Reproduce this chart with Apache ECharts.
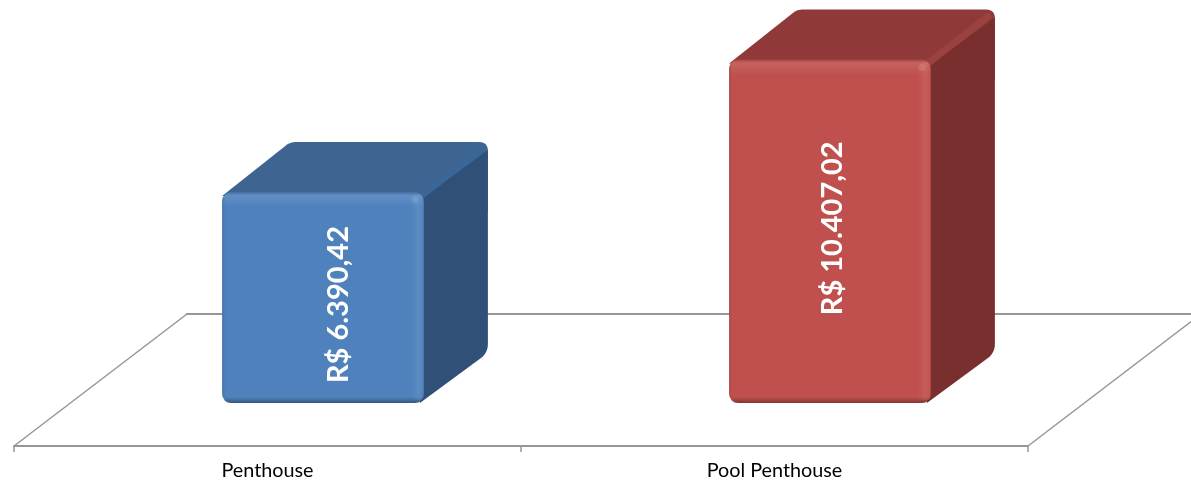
<!DOCTYPE html>
<html>
<head>
<meta charset="utf-8">
<style>
html,body{margin:0;padding:0;background:#fff;}
#chart{width:1191px;height:481px;}
</style>
<script src="https://cdn.jsdelivr.net/npm/echarts@6/dist/echarts.min.js"></script>
</head>
<body>
<div id="chart"></div>
<script>
// dados
var categories = ['Penthouse', 'Pool Penthouse'];
var values = [6390.42, 10407.02];
var valueLabels = ['R$ 6.390,42', 'R$ 10.407,02'];

// cores: frente, topo, lateral, aresta
var palette = [
    {front: '#4f81bd', top: '#3e6591', side: '#305078', ridge: '#3a6698'},
    {front: '#c0504d', top: '#8f3a38', side: '#792f2e', ridge: '#9a4240'}
];
// deslocamento do rotulo em relacao ao centro da frente
var labelNudge = [[16, 7], [3, -3]];

var depthX = 64, depthY = 50;   // profundidade da caixa
var floorX = 173, floorY = 132; // profundidade do piso
var shiftX = 55.5;              // frente da caixa em relacao a categoria

var chart = echarts.init(document.getElementById('chart'));

// arredonda os cantos de um poligono
function roundPoly(pts, radii) {
    var out = [];
    for (var i = 0; i < pts.length; i++) {
        var r = radii[i];
        var p = pts[i], a = pts[(i + pts.length - 1) % pts.length], b = pts[(i + 1) % pts.length];
        if (!r) { out.push(p); continue; }
        var la = Math.hypot(a[0] - p[0], a[1] - p[1]), lb = Math.hypot(b[0] - p[0], b[1] - p[1]);
        var s = [p[0] + (a[0] - p[0]) * r / la, p[1] + (a[1] - p[1]) * r / la];
        var e = [p[0] + (b[0] - p[0]) * r / lb, p[1] + (b[1] - p[1]) * r / lb];
        for (var t = 0; t <= 6; t++) {
            var u = t / 6;
            out.push([
                (1 - u) * (1 - u) * s[0] + 2 * u * (1 - u) * p[0] + u * u * e[0],
                (1 - u) * (1 - u) * s[1] + 2 * u * (1 - u) * p[1] + u * u * e[1]
            ]);
        }
    }
    return out;
}

function grad(horizontal, stops) {
    return new echarts.graphic.LinearGradient(0, 0, horizontal ? 1 : 0, horizontal ? 0 : 1,
        stops.map(function (s) { return {offset: s[0], color: s[1]}; }));
}

function renderFloor(params, api) {
    var c = params.coordSys;
    var fy = c.y + c.height + 43;
    var x0 = c.x, x1 = c.x + c.width;
    var diag = {stroke: '#969696', lineWidth: 1.5};
    return {
        type: 'group',
        children: [
            {type: 'line', shape: {x1: x0, y1: fy, x2: x0 + floorX, y2: fy - floorY}, style: diag},
            {type: 'line', shape: {x1: x0 + floorX - 1, y1: fy - floorY, x2: x1 + floorX, y2: fy - floorY}, style: {stroke: '#969696', lineWidth: 2}},
            {type: 'line', shape: {x1: x1, y1: fy, x2: x1 + floorX, y2: fy - floorY}, style: diag}
        ]
    };
}

function renderBox(params, api) {
    var i = params.dataIndex;
    var col = palette[i];
    var top = api.coord([api.value(0), api.value(1)]);
    var base = api.coord([api.value(0), 0]);
    var w = api.size([1, 0])[0] * 0.398;
    var x = top[0] + shiftX - w / 2, y = top[1], h = base[1] - top[1];
    var r = 9;
    var kids = [];

    // silhueta (cor do topo)
    kids.push({type: 'polygon', shape: {points: roundPoly([
        [x, y + 4], [x + depthX + 4, y - depthY], [x + w + depthX, y - depthY], [x + w + depthX, y + 20], [x + w, y + 20]
    ], [0, 5, 9, 0, 0])}, style: {fill: col.top}});
    // lateral
    kids.push({type: 'polygon', shape: {points: roundPoly([
        [x + w - 4, y + 8], [x + w + depthX, y - depthY + 8], [x + w + depthX, y + h - depthY], [x + w - 4, y + h]
    ], [0, 0, 9, 0])}, style: {fill: col.side}});
    // aresta topo/lateral
    kids.push({type: 'line', shape: {x1: x + w - 2, y1: y + 3, x2: x + w + depthX - 7, y2: y - depthY + 7},
        style: {stroke: col.ridge, lineWidth: 7, lineCap: 'round'}});
    // frente
    kids.push({type: 'rect', shape: {x: x, y: y, width: w, height: h, r: r}, style: {fill: col.front}});
    // chanfro de cima
    kids.push({type: 'rect', shape: {x: x + 1, y: y, width: w - 2, height: 15, r: [r, r, 0, 0]}, style: {
        fill: grad(false, [[0, 'rgba(0,0,0,0.16)'], [0.25, 'rgba(255,255,255,0.10)'], [0.5, 'rgba(255,255,255,0.07)'], [1, 'rgba(255,255,255,0)']])
    }});
    // chanfro da direita
    kids.push({type: 'rect', shape: {x: x + w - 13, y: y + 3, width: 13, height: h - 6}, style: {
        fill: grad(true, [[0, 'rgba(255,255,255,0)'], [0.55, 'rgba(255,255,255,0.08)'], [0.85, 'rgba(255,255,255,0.04)'], [1, 'rgba(0,0,0,0.06)']])
    }});
    // sombra de baixo
    kids.push({type: 'rect', shape: {x: x + 1, y: y + h - 6, width: w - 2, height: 6, r: [0, 0, r, r]}, style: {
        fill: grad(false, [[0, 'rgba(0,0,0,0)'], [1, 'rgba(0,0,0,0.32)']])
    }});
    // sombra da esquerda
    kids.push({type: 'rect', shape: {x: x, y: y + 6, width: 3, height: h - 12}, style: {
        fill: grad(true, [[0, 'rgba(0,0,0,0.12)'], [1, 'rgba(0,0,0,0)']])
    }});
    // brilho do canto
    kids.push({type: 'circle', shape: {cx: x + w - 9, cy: y + 8, r: 3.5}, style: {fill: 'rgba(255,255,255,0.10)'}});
    // rotulo
    kids.push({type: 'text', x: x + w / 2 + labelNudge[i][0], y: y + h / 2 + labelNudge[i][1], rotation: Math.PI / 2, style: {
        text: valueLabels[i], fill: '#fff', font: 'bold 29px Lato', align: 'center', verticalAlign: 'middle'
    }});
    return {type: 'group', children: kids};
}

var option = {
    backgroundColor: '#fff',
    animation: false,
    grid: {left: 14, right: 163, top: 7, bottom: 78},
    xAxis: {
        type: 'category',
        data: categories,
        offset: 43,
        axisLine: {show: true, onZero: false, lineStyle: {color: '#969696', width: 2}},
        axisTick: {show: true, alignWithLabel: false, length: 6, lineStyle: {color: '#969696', width: 1.5}},
        axisLabel: {color: '#000', fontFamily: 'Lato', fontSize: 19.8, margin: 15},
        splitLine: {show: false}
    },
    yAxis: {type: 'value', min: 0, max: 12000, show: false},
    series: [
        {type: 'custom', z: 1, silent: true, renderItem: renderFloor, clip: false, data: [[0, 0]], encode: {x: 0, y: 1}},
        {type: 'custom', z: 2, silent: true, renderItem: renderBox, clip: false,
            data: values.map(function (v, i) { return [i, v]; }), encode: {x: 0, y: 1}}
    ]
};
chart.setOption(option);
</script>
</body>
</html>
